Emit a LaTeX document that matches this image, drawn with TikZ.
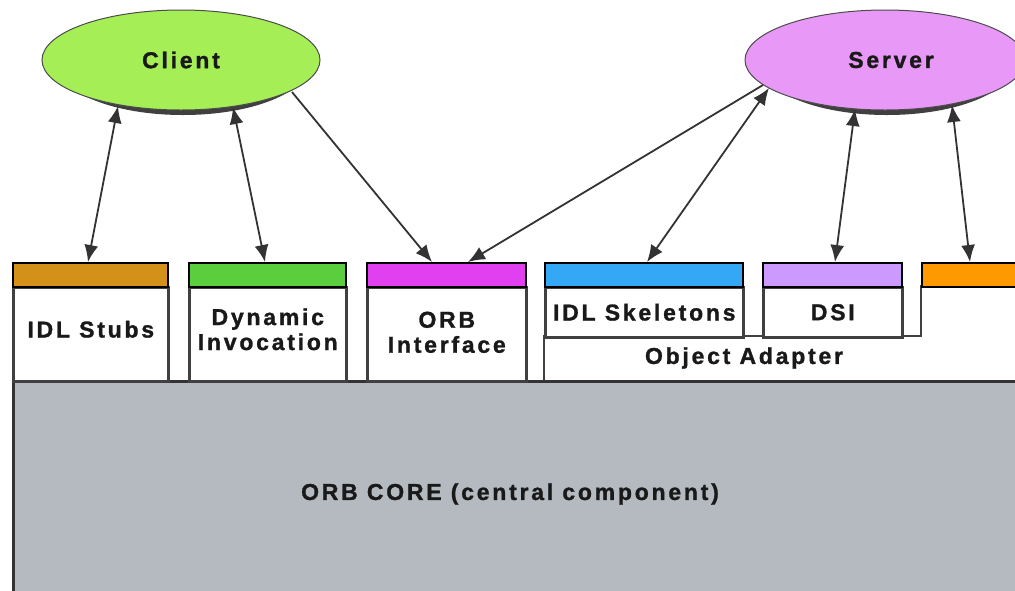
\documentclass[tikz,border=0pt]{standalone}
\usepackage{fontspec}
\usetikzlibrary{shapes.geometric,arrows.meta,calc}
\newfontfamily\lblfont[LetterSpace=12,BoldFeatures={FakeBold=1.2}]{Liberation Sans}
\definecolor{cStubs}{RGB}{212,145,25}
\definecolor{cDyn}{RGB}{90,206,60}
\definecolor{cOrbi}{RGB}{224,64,240}
\definecolor{cSkel}{RGB}{53,168,245}
\definecolor{cDsi}{RGB}{204,153,255}
\definecolor{cRight}{RGB}{255,153,0}
\definecolor{cClient}{RGB}{166,238,85}
\definecolor{cServer}{RGB}{232,153,248}
\definecolor{cCore}{RGB}{180,186,192}
\tikzset{
  lbl/.style={font=\lblfont\bfseries\fontsize{23}{25}\selectfont, text=black!90, align=center, inner sep=0pt},
  colbar/.style={draw=black, line width=1.6pt, minimum height=24pt, inner sep=0pt, anchor=north west},
  boxbody/.style={draw=black!75, fill=white, line width=2.6pt, inner sep=0pt, anchor=north west},
  actor/.style={ellipse, draw=black!70, line width=1pt, minimum width=278pt, minimum height=100pt, inner sep=0pt, lbl},
  shade/.style={ellipse, fill=black!75, minimum width=250pt, minimum height=100pt, inner sep=0pt},
  link/.style={draw=black!80, line width=1.8pt, >={Latex[length=17pt,width=14pt]}, <->},
  onelink/.style={draw=black!80, line width=1.8pt, >={Latex[length=17pt,width=14pt]}, ->},
}
\begin{document}
\begin{tikzpicture}[x=1pt,y=-1pt]
\useasboundingbox (0,0) rectangle (1015,590);
\clip (0,0) rectangle (1015,590);
\fill[white] (0,0) rectangle (1015,590);

% core
\node[draw=black!80, fill=cCore, line width=3pt, anchor=north west, minimum width=1020pt, minimum height=220pt, inner sep=0pt] (core) at (12,380) {};
\node[lbl] (corelabel) at (510,494) {ORB CORE (central component)};

% object adapter and right body
\node[fill=white, anchor=north west, minimum width=480pt, minimum height=44pt, inner sep=0pt] (adapter) at (544,336) {};
\node[fill=white, anchor=north west, minimum width=100pt, minimum height=94pt, inner sep=0pt] (rightbody) at (921,286) {};
\draw[draw=black!75, line width=2.6pt] (adapter.south west) -- (adapter.north west) -- (rightbody.west |- adapter.north) -- (rightbody.north west) -- (rightbody.north east);
\node[lbl] (adapterlabel) at (744,358) {Object Adapter};

% white bodies
\node[boxbody, minimum width=155pt, minimum height=94pt] (stubs) at (12,286) {};
\node[boxbody, minimum width=157pt, minimum height=94pt] (dyn) at (188,286) {};
\node[boxbody, minimum width=159pt, minimum height=94pt] (orbi) at (366,286) {};
\node[boxbody, minimum width=198pt, minimum height=50pt] (skel) at (544,286) {};
\node[boxbody, minimum width=139pt, minimum height=50pt] (dsi) at (762,286) {};
\node[lbl] (stubslabel) at ($(stubs.center)+(0,-5)$) {IDL Stubs};
\node[lbl] (dynlabel) at ($(dyn.center)+(0,-5)$) {Dynamic\\Invocation};
\node[lbl] (orbilabel) at ($(orbi.center)+(0,-2)$) {ORB\\Interface};
\node[lbl] (skellabel) at (skel.center) {IDL Skeletons};
\node[lbl] (dsilabel) at (dsi.center) {DSI};

% colour bars
\node[colbar, fill=cStubs, minimum width=155pt] (stubsbar) at (12,262) {};
\node[colbar, fill=cDyn, minimum width=157pt] (dynbar) at (188,262) {};
\node[colbar, fill=cOrbi, minimum width=159pt] (orbibar) at (366,262) {};
\node[colbar, fill=cSkel, minimum width=198pt] (skelbar) at (544,262) {};
\node[colbar, fill=cDsi, minimum width=139pt] (dsibar) at (762,262) {};
\node[colbar, fill=cRight, minimum width=100pt] (rightbar) at (921,262) {};

% actors
\node[shade] (clientshade) at (183,65) {};
\node[actor, fill=cClient] (client) at (181,60) {Client};
\node[shade] (servershade) at (887,65) {};
\node[actor, fill=cServer, minimum width=280pt] (server) at (885,60) {\hspace*{12pt}Server};

% connectors
\draw[link] ($(client.center)+(-63,46)$) -- ($(stubsbar.north west)+(76,0)$);
\draw[link] ($(client.center)+(52,47)$) -- ($(dynbar.north west)+(77,0)$);
\draw[onelink] ($(client.center)+(111,32)$) -- ($(orbibar.north west)+(66,0)$);
\draw[onelink] ($(server.center)+(-122,25)$) -- ($(orbibar.north west)+(102,0)$);
\draw[link] ($(server.center)+(-116,28)$) -- ($(skelbar.north west)+(103,0)$);
\draw[link] ($(server.center)+(-30,49)$) -- ($(dsibar.north west)+(73,0)$);
\draw[link] ($(server.center)+(67,45)$) -- ($(rightbar.north west)+(49,0)$);
\end{tikzpicture}
\end{document}
